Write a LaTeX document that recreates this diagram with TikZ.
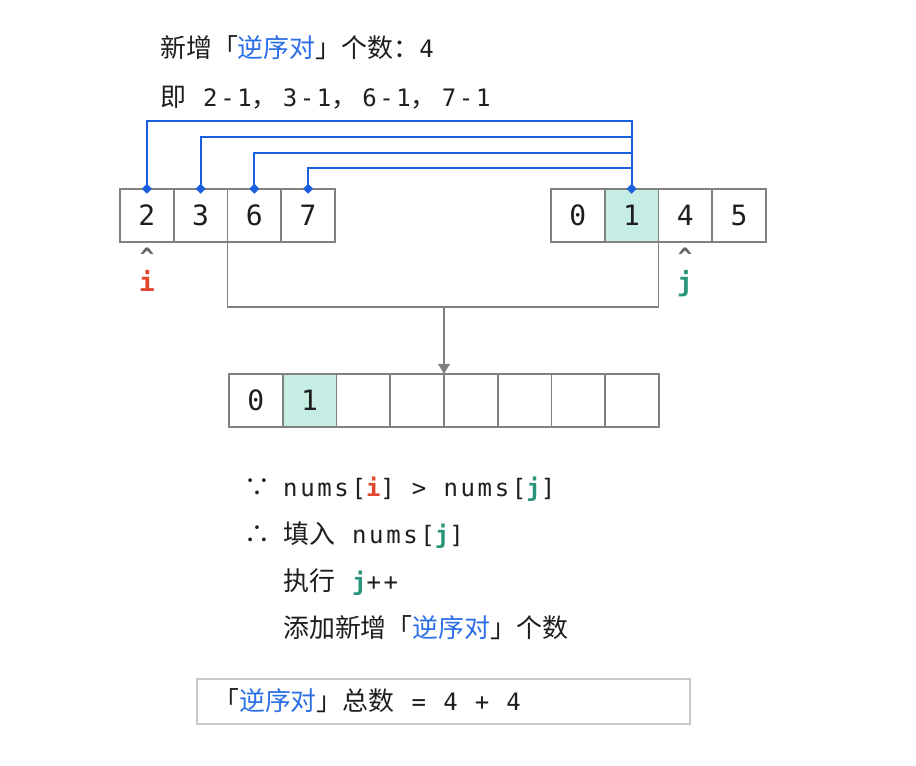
\documentclass[tikz,border=0pt]{standalone}
\usepackage{fontspec}
\setmainfont{DejaVu Sans Mono}[LetterSpace=11]
\newfontfamily\cjk{Noto Sans CJK SC}[Scale=1.08]
\newfontfamily\cellfont{DejaVu Sans Mono}
\usetikzlibrary{arrows.meta,shapes.geometric}
\definecolor{txt}{HTML}{1E1E1E}
\definecolor{gridgray}{HTML}{808080}
\definecolor{linkblue}{HTML}{1A5FDD}
\definecolor{textblue}{HTML}{2B6FE8}
\definecolor{ired}{HTML}{E2472E}
\definecolor{jgreen}{HTML}{28957B}
\definecolor{hlteal}{HTML}{C5EDE3}
\definecolor{boxgray}{HTML}{C8C8C8}
\definecolor{caretgray}{HTML}{666666}
\newcommand\zh[1]{{\cjk #1}}
\newcommand\bz[1]{{\cjk\color{textblue}#1}}
\newcommand\vi{{\bfseries\color{ired}i}}
\newcommand\vj{{\bfseries\color{jgreen}j}}
\begin{document}
\begin{tikzpicture}[x=1pt,y=-1pt,
  cell/.style={draw=gridgray,line width=1.6pt,minimum width=53.75pt,minimum height=53.5pt,inner sep=0pt,outer sep=0pt,font=\cellfont\fontsize{28}{28}\selectfont,text=txt},
  plain/.style={},
  hl/.style={fill=hlteal},
  link/.style={draw=linkblue,line width=1.8pt},
  dot/.style={diamond,fill=linkblue,inner sep=0pt,minimum size=10pt},
  conn/.style={draw=gridgray,line width=1.6pt},
  tline/.style={anchor=base west,inner sep=0pt,font=\fontsize{24}{24}\selectfont,text=txt},
  caret/.style={anchor=base,inner sep=0pt,font=\cellfont\bfseries\fontsize{24}{24}\selectfont,text=caretgray},
  ptr/.style={anchor=base,inner sep=0pt,font=\cellfont\bfseries\fontsize{26}{26}\selectfont},
]
\useasboundingbox[fill=white] (0,0) rectangle (916,766);

% top text
\node[tline] (t1) at (160,57) {\zh{新增「}\bz{逆序对}\zh{」个数：}4};
\node[tline] (t2) at (160,106) {\zh{即} 2-1\zh{，}\hspace{5pt}3-1\zh{，}\hspace{5pt}6-1\zh{，}\hspace{5pt}7-1};

% arrays
\foreach \v [count=\k] in {2,3,6,7}
  \node[cell] (L\k) at ({120+53.75*(\k-0.5)},215.5) {\v};
\foreach \v/\s [count=\k] in {0/plain,1/hl,4/plain,5/plain}
  \node[cell,\s] (R\k) at ({551+53.75*(\k-0.5)},215.5) {\v};
\node[cell] (B1) at ({229+53.75*0.5},400.5) {0};
\node[cell,hl] (B2) at ({229+53.75*1.5},400.5) {1};
\foreach \k in {3,...,8}
  \node[cell] (B\k) at ({229+53.75*(\k-0.5)},400.5) {};

% blue links
\foreach \k/\yy in {1/121,2/137,3/153,4/168}{
  \coordinate (h\k) at (0,\yy);
  \draw[link] (L\k.north) |- (R2.north |- h\k) -- (R2.north);
}
\foreach \k in {1,...,4}
  \node[dot] (d\k) at (L\k.north) {};
\node[dot] (dr) at (R2.north) {};

% merge connector
\coordinate (h0) at (0,307);
\coordinate (mid) at (B4.north east |- h0);
\draw[conn] (L2.south east) |- (mid) -| (R2.south east);
\draw[conn,-{Triangle[length=10pt,width=12pt]}] (mid) -- (B4.north east);

% pointers
\node[caret] (ci) at (147,265.5) {\textasciicircum};
\node[ptr,text=ired] (pi) at (147,291) {i};
\node[caret] (cj) at (685,265.5) {\textasciicircum};
\node[ptr,text=jgreen] (pj) at (685,291) {j};

% explanation
\node[tline,anchor=base] (because) at (257,496) {\zh{∵}};
\node[tline] (e1) at (283,496) {nums[\vi] > nums[\vj]};
\node[tline,anchor=base] (therefore) at (257,543) {\zh{∴}};
\node[tline] (e2) at (283,543) {\zh{填入} nums[\vj]};
\node[tline] (e3) at (283,590) {\zh{执行} \vj++};
\node[tline] (e4) at (283,637) {\zh{添加新增「}\bz{逆序对}\zh{」个数}};

% total box
\node[draw=boxgray,line width=1.2pt,minimum width=493pt,minimum height=45pt,inner sep=0pt] (box) at (443.5,701.5) {};
\node[tline] (tot) at (213,710.5) {\zh{「}\bz{逆序对}\zh{」总数} = 4 + 4};
\end{tikzpicture}
\end{document}
